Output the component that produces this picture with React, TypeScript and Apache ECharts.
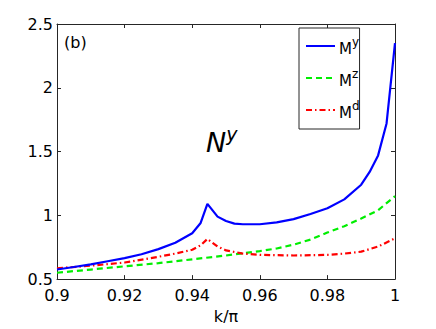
import React, { useEffect, useRef } from "react";
import * as echarts from "echarts";

const xMy = [0.9, 0.905, 0.91, 0.915, 0.92, 0.925, 0.93, 0.935, 0.94, 0.9425, 0.9445, 0.9475, 0.95, 0.9525, 0.955, 0.96, 0.965, 0.97, 0.975, 0.98, 0.985, 0.99, 0.9925, 0.995, 0.9975, 1.0];
const yMy = [0.575, 0.595, 0.615, 0.64, 0.665, 0.695, 0.735, 0.785, 0.86, 0.94, 1.09, 0.99, 0.955, 0.935, 0.93, 0.93, 0.945, 0.97, 1.01, 1.055, 1.125, 1.24, 1.34, 1.47, 1.72, 2.35];

const xMz = [0.9, 0.91, 0.92, 0.93, 0.94, 0.95, 0.96, 0.965, 0.97, 0.975, 0.98, 0.985, 0.99, 0.995, 1.0];
const yMz = [0.55, 0.575, 0.6, 0.625, 0.655, 0.685, 0.72, 0.74, 0.77, 0.81, 0.865, 0.915, 0.975, 1.04, 1.15];

const xMd = [0.9, 0.91, 0.92, 0.93, 0.935, 0.94, 0.9425, 0.9445, 0.9475, 0.95, 0.955, 0.96, 0.97, 0.98, 0.985, 0.99, 0.995, 1.0];
const yMd = [0.585, 0.605, 0.63, 0.675, 0.7, 0.73, 0.765, 0.815, 0.755, 0.725, 0.7, 0.69, 0.685, 0.69, 0.7, 0.715, 0.755, 0.82];

const seriesNames = ["My", "Mz", "Md"];
const seriesSup: Record<string, string> = { My: "y", Mz: "z", Md: "d" };
const xTickLabels = ["0.9", "0.92", "0.94", "0.96", "0.98", "1"];
const yTickLabels = ["0.5", "1", "1.5", "2", "2.5"];

const zip = (xs: number[], ys: number[]) => xs.map((x, i) => [x, ys[i]]);

export default function App() {
  const ref = useRef<HTMLDivElement>(null);
  useEffect(() => {
    if (!ref.current) return;
    const chart = echarts.init(ref.current, undefined, { renderer: "svg" });
    const font = "'DejaVu Sans', sans-serif";
    const axisLine = { show: true, lineStyle: { color: "#262626", width: 1 } };
    const tick = { show: true, inside: true, length: 4, lineStyle: { color: "#262626" } };
    const fmtX = (v: number) => {
      const idx = Math.round((v - 0.9) / 0.02);
      return xTickLabels[idx] ?? "";
    };
    const fmtY = (v: number) => {
      const idx = Math.round((v - 0.5) / 0.5);
      return yTickLabels[idx] ?? "";
    };
    chart.setOption({
      animation: false,
      backgroundColor: "#ffffff",
      textStyle: { fontFamily: font },
      grid: { left: 57, right: 41, top: 24, bottom: 48, containLabel: false },
      legend: {
        orient: "vertical",
        left: 299,
        top: 28,
        padding: [8, 0, 9, 6],
        itemGap: 12,
        itemWidth: 29,
        itemHeight: 14,
        backgroundColor: "#ffffff",
        borderColor: "#262626",
        borderWidth: 1,
        borderRadius: 0,
        itemStyle: { opacity: 0 },
        data: seriesNames,
        formatter: (name: string) => `{m|M}{s|${seriesSup[name]}}`,
        textStyle: {
          fontFamily: font,
          color: "#000",
          padding: [0, 0, 0, -1],
          rich: {
            m: { fontSize: 15, lineHeight: 20, verticalAlign: "bottom", fontFamily: font, color: "#000" },
            s: { fontSize: 12, lineHeight: 13, verticalAlign: "top", fontFamily: font, color: "#000" },
          },
        },
      },
      xAxis: [
        {
          type: "value",
          position: "bottom",
          min: 0.9,
          max: 1,
          interval: 0.02,
          axisLine,
          axisTick: tick,
          axisLabel: { formatter: fmtX, fontSize: 16, color: "#000", margin: 8, fontFamily: font },
          splitLine: { show: false },
          name: "k/π",
          nameLocation: "middle",
          nameGap: 23,
          nameTextStyle: { fontSize: 16, color: "#000", fontFamily: font },
        },
        {
          type: "value",
          position: "top",
          min: 0.9,
          max: 1,
          interval: 0.02,
          axisLine,
          axisTick: tick,
          axisLabel: { show: false },
          splitLine: { show: false },
        },
      ],
      yAxis: [
        {
          type: "value",
          position: "left",
          min: 0.5,
          max: 2.5,
          interval: 0.5,
          axisLine,
          axisTick: tick,
          axisLabel: { formatter: fmtY, fontSize: 16, color: "#000", margin: 4, fontFamily: font },
          splitLine: { show: false },
        },
        {
          type: "value",
          position: "right",
          min: 0.5,
          max: 2.5,
          interval: 0.5,
          axisLine,
          axisTick: tick,
          axisLabel: { show: false },
          splitLine: { show: false },
        },
      ],
      graphic: [
        { type: "text", left: 64, top: 34, style: { text: "(b)", fontSize: 16, fill: "#000", fontFamily: font } },
        {
          type: "text",
          left: 206,
          top: 124,
          style: {
            text: "{n|N}{s|y}",
            fill: "#000",
            fontFamily: font,
            rich: {
              n: { fontSize: 27, fontStyle: "italic", lineHeight: 32, verticalAlign: "bottom", fontFamily: font },
              s: { fontSize: 19, fontStyle: "italic", lineHeight: 20, verticalAlign: "top", fontFamily: font },
            },
          },
        },
      ],
      series: [
        {
          name: "My",
          type: "line",
          data: zip(xMy, yMy),
          showSymbol: false,
          symbol: "none",
          lineStyle: { color: "#0000ff", width: 2.2 },
          itemStyle: { color: "#0000ff" },
          z: 3,
        },
        {
          name: "Mz",
          type: "line",
          data: zip(xMz, yMz),
          showSymbol: false,
          symbol: "none",
          lineStyle: { color: "#00ee00", width: 2.2, type: [6, 4] },
          itemStyle: { color: "#00ee00" },
          z: 2,
        },
        {
          name: "Md",
          type: "line",
          data: zip(xMd, yMd),
          showSymbol: false,
          symbol: "none",
          lineStyle: { color: "#ff0000", width: 2.2, type: [6, 3, 1.5, 3] },
          itemStyle: { color: "#ff0000" },
          z: 2,
        },
      ],
    });
    return () => chart.dispose();
  }, []);
  return (
    <div
      ref={ref}
      style={{ position: "fixed", left: 0, top: 0, width: 436, height: 329, background: "#fff" }}
    />
  );
}
